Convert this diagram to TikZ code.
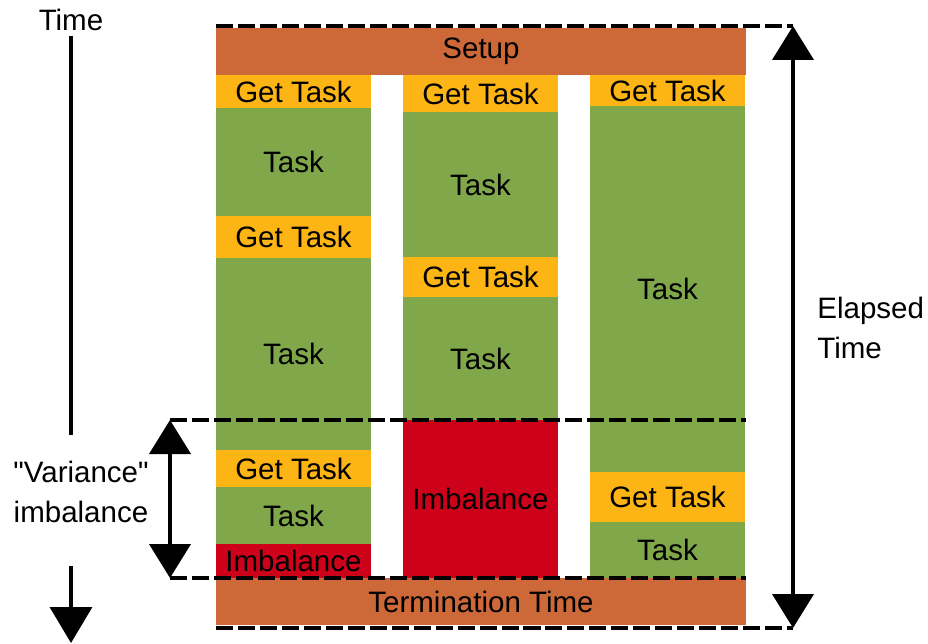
\documentclass[tikz,border=0pt]{standalone}
\usepackage{fontspec}
\newfontfamily\lbfont{Liberation Sans}
\usepackage{tikz}
\usetikzlibrary{arrows.meta}
\definecolor{phasec}{RGB}{205,104,56}
\definecolor{getc}{RGB}{253,180,21}
\definecolor{taskc}{RGB}{128,167,74}
\definecolor{imbc}{RGB}{205,2,26}
\def\bfnt{\lbfont\fontsize{16.8}{22.8}\selectfont}

\begin{document}
\begin{tikzpicture}[x=0.02cm, y=-0.02cm, font=\bfnt,
    blk/.style={anchor=north west, minimum width=155*0.02cm, inner sep=0pt, outer sep=0pt},
    ht/.style={minimum height=#1*0.02cm},
    phase/.style={blk, fill=phasec, minimum width=530*0.02cm},
    gettask/.style={blk, fill=getc},
    task/.style={blk, fill=taskc},
    imbal/.style={blk, fill=imbc},
    dashln/.style={line width=2.3pt, dash pattern=on 9.7pt off 2.8pt},
    bigarr/.style={line width=2.3pt, >={Triangle[width=0.82cm,length=0.68cm]}}]
    \useasboundingbox (0,0) rectangle (928,643);

    \node[phase, ht=47] (setup) at (216,28) {Setup};

    \node[gettask, ht=33] (g11) at (216,75) {Get Task};
    \node[task, ht=108] (t11) at (216,108) {Task};
    \node[gettask, ht=42] (g12) at (216,216) {Get Task};
    \node[task, ht=192] (t12) at (216,258) {Task};
    \node[gettask, ht=37] (g13) at (216,450) {Get Task};
    \node[task, ht=57] (t13) at (216,487) {Task};
    \node[imbal, ht=34] (i11) at (216,544) {Imbalance};

    \node[gettask, ht=37] (g21) at (403,75) {Get Task};
    \node[task, ht=145] (t21) at (403,112) {Task};
    \node[gettask, ht=40] (g22) at (403,257) {Get Task};
    \node[task, ht=123] (t22) at (403,297) {Task};
    \node[imbal, ht=158] (i21) at (403,420) {Imbalance};

    \node[gettask, ht=31] (g31) at (590,75) {Get Task};
    \node[task, ht=366] (t31) at (590,106) {Task};
    \node[gettask, ht=50] (g32) at (590,472) {Get Task};
    \node[task, ht=56] (t32) at (590,522) {Task};

    \node[phase, ht=47] (term) at (216,578) {Termination Time};

    \coordinate (topl) at (216,26);
    \coordinate (topr) at (793,26);
    \coordinate (midl) at (170,420);
    \coordinate (midr) at (746,420);
    \coordinate (lowl) at (170,578);
    \coordinate (lowr) at (746,578);
    \coordinate (botl) at (216,628);
    \coordinate (botr) at (793,628);

    \draw[dashln] (topl) -- (topr);
    \draw[dashln] (midl) -- (midr);
    \draw[dashln] (lowl) -- (lowr);
    \draw[dashln] (botl) -- (botr);

    \draw[bigarr, <->] (topr) -- (botr);
    \draw[bigarr, <->] (midl) -- (lowl);

    \node[inner sep=0pt] (timelbl) at (71,20) {Time};
    \coordinate (ax0) at (71,36);
    \coordinate (ax1) at (71,435);
    \coordinate (ax2) at (71,566);
    \coordinate (ax3) at (71,643);
    \draw[line width=2pt] (ax0) -- (ax1);
    \draw[line width=2pt, -{Triangle[width=0.84cm,length=0.72cm]}] (ax2) -- (ax3);

    \node[align=center, inner sep=0pt] (varlbl) at (81,492) {"Variance"\\imbalance};
    \node[align=left, anchor=west, inner sep=0pt] (elapsed) at (817,328) {Elapsed\\Time};
\end{tikzpicture}
\end{document}
